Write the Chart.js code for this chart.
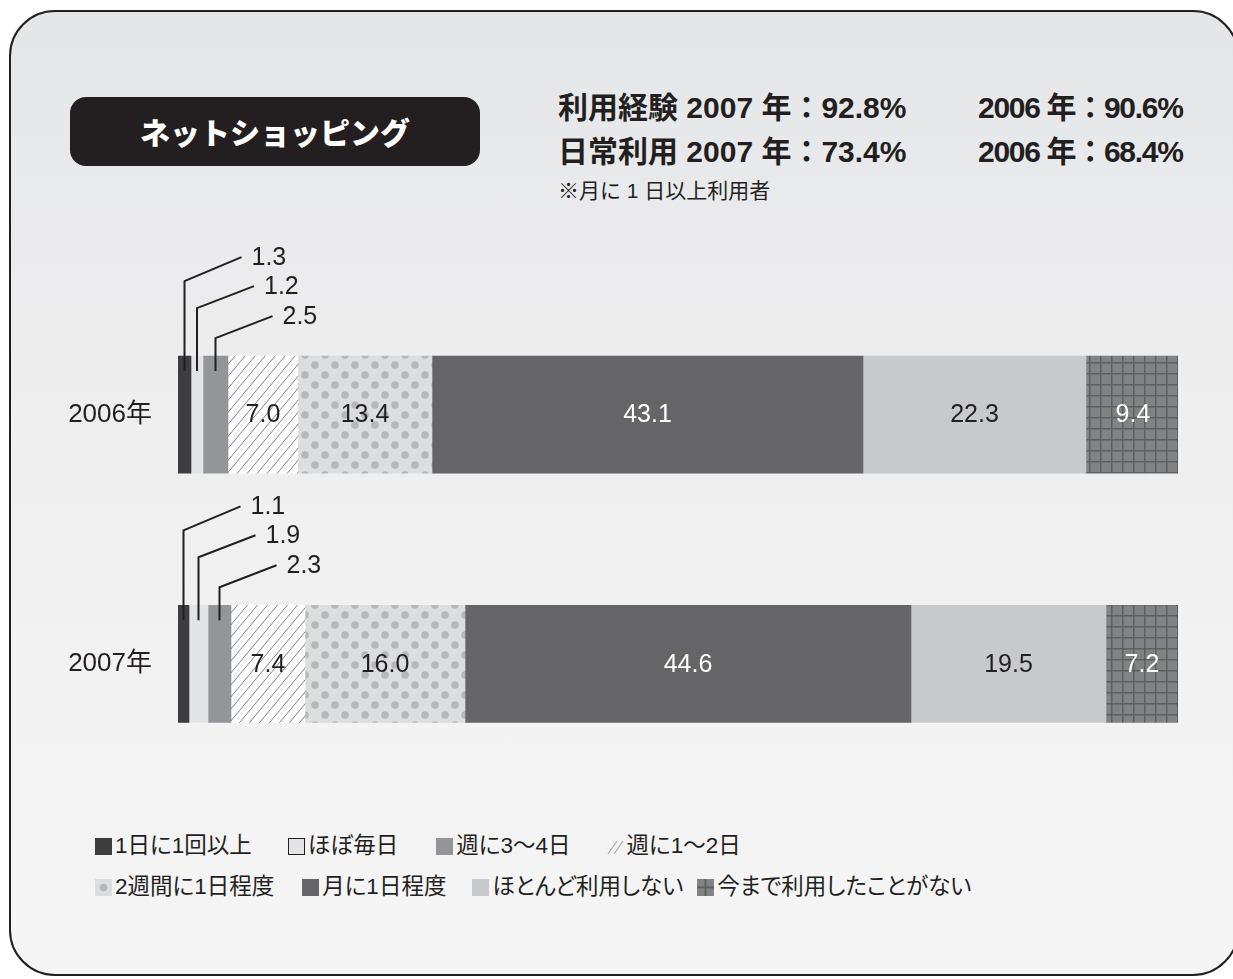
<!DOCTYPE html>
<html lang="ja">
<head>
<meta charset="utf-8">
<script src="https://cdn.jsdelivr.net/npm/chart.js@4.4.1/dist/chart.umd.min.js"></script>
<style>
  html, body { margin: 0; padding: 0; background: #fff; }
  body { width: 1233px; height: 979px; position: relative; overflow: hidden;
         font-family: "Liberation Sans", Arial, "Noto Sans CJK JP", sans-serif; color: #231f20; }
  #frame { position: absolute; left: 9px; top: 10px; width: 1226px; height: 962px;
           border: 2.5px solid #231f20; border-radius: 46px;
           background: linear-gradient(#e5e6e8 0%, #eeeeef 40%, #f3f3f4 75%, #f5f5f6 100%); }
  #title { position: absolute; left: 70px; top: 97px; width: 410px; height: 69px;
           background: #231f20; border-radius: 16px; color: #fff;
           font: 900 30px "Noto Sans CJK JP", sans-serif; line-height: 69px; text-align: center; }
  .stat { position: absolute; font-weight: 700; font-size: 30px; line-height: 36px; white-space: nowrap; }
  .stat.second { letter-spacing: -1.3px; }
  #note { position: absolute; left: 558px; top: 178px; font-size: 21px; line-height: 26px; white-space: nowrap; }
  #chartBox { position: absolute; left: 0; top: 230px; width: 1233px; height: 600px; }
  .row { position: absolute; display: flex; align-items: center; white-space: nowrap;
         font-size: 22.5px; line-height: 26px; font-feature-settings: "palt"; }
  .lg { display: flex; align-items: center; }
  .lg canvas { width: 17px; height: 17px; margin-right: 3px; }
</style>
</head>
<body>
<div id="frame"></div>
<div id="title">ネットショッピング</div>
<div class="stat" style="left:558px;top:90px">利用経験 2007 年：92.8%</div>
<div class="stat second" style="left:978px;top:90px">2006 年：90.6%</div>
<div class="stat" style="left:558px;top:134px">日常利用 2007 年：73.4%</div>
<div class="stat second" style="left:978px;top:134px">2006 年：68.4%</div>
<div id="note">※月に 1 日以上利用者</div>
<div id="chartBox"><canvas id="chart" width="1233" height="600"></canvas></div>
<div class="row" id="legend1" style="left:95px;top:833px"></div>
<div class="row" id="legend2" style="left:95px;top:874px"></div>

<script>
// 利用頻度（%）
const categories = ['2006年', '2007年'];
const seriesLabels = ['1日に1回以上', 'ほぼ毎日', '週に3〜4日', '週に1〜2日',
                      '2週間に1日程度', '月に1日程度', 'ほとんど利用しない', '今まで利用したことがない'];
const daily       = [1.3, 1.1];
const almostDaily = [1.2, 1.9];
const weekly34    = [2.5, 2.3];
const weekly12    = [7.0, 7.4];
const biweekly    = [13.4, 16.0];
const monthly     = [43.1, 44.6];
const rarely      = [22.3, 19.5];
const never       = [9.4, 7.2];
const seriesValues = [daily, almostDaily, weekly34, weekly12, biweekly, monthly, rarely, never];

// pattern tiles
function tile(w, h, draw) {
    const c = document.createElement('canvas');
    c.width = w; c.height = h;
    draw(c.getContext('2d'), w, h);
    return c;
}
const hatchTile = tile(10, 12, (g, w, h) => {
    g.fillStyle = '#fff'; g.fillRect(0, 0, w, h);
    g.strokeStyle = '#808183'; g.lineWidth = 1;
    g.beginPath();
    g.moveTo(-1, h + 1.2); g.lineTo(w + 1, -1.2);
    g.stroke();
});
const dotTile = tile(20, 20, (g, w, h) => {
    g.fillStyle = '#dcdddf'; g.fillRect(0, 0, w, h);
    g.fillStyle = '#b6b7b9';
    [[5, 5], [15, 15]].forEach(([x, y]) => { g.beginPath(); g.arc(x, y, 3.8, 0, Math.PI * 2); g.fill(); });
});
const gridTile = tile(11, 11, (g, w, h) => {
    g.fillStyle = '#818284'; g.fillRect(0, 0, w, h);
    g.fillStyle = '#5e5f61';
    g.fillRect(0, 0, 1.5, h); g.fillRect(0, 0, w, 1.5);
});

const ctx = document.getElementById('chart').getContext('2d');
const pat = t => ctx.createPattern(t, 'repeat');
const fills = ['#3d3d3f', '#e3e4e6', '#939598', pat(hatchTile), pat(dotTile), '#656567', '#c8c9cb', pat(gridTile)];
const textColors = ['#231f20', '#231f20', '#231f20', '#231f20', '#231f20', '#fff', '#231f20', '#fff'];

// in-bar values and leader-line callouts for the thin segments
const valueLabels = {
    id: 'valueLabels',
    afterDatasetsDraw(chart) {
        const c = chart.ctx;
        c.save();
        c.font = '25px "Liberation Sans", Arial, sans-serif';
        c.textBaseline = 'middle';
        const rise = [[75, 99], [48, 70], [18, 40]];
        chart.data.datasets.forEach((ds, i) => {
            chart.getDatasetMeta(i).data.forEach((bar, j) => {
                const p = bar.getProps(['x', 'y', 'base', 'height'], true);
                const cx = (p.x + p.base) / 2;
                const top = p.y - p.height / 2;
                const text = ds.data[j].toFixed(1);
                if (i < 3) {
                    const [r1, r2] = rise[i];
                    c.strokeStyle = '#231f20';
                    c.lineWidth = 2;
                    c.beginPath();
                    c.moveTo(cx, top + 15);
                    c.lineTo(cx, top - r1);
                    c.lineTo(cx + 57, top - r2);
                    c.stroke();
                    c.fillStyle = '#231f20';
                    c.textAlign = 'left';
                    c.fillText(text, cx + 67, top - r2 + 1);
                } else {
                    c.fillStyle = textColors[i];
                    c.textAlign = 'center';
                    c.fillText(text, cx, p.y + 1);
                }
            });
        });
        c.restore();
    }
};

new Chart(ctx, {
    type: 'bar',
    data: {
        labels: categories,
        datasets: seriesValues.map((vals, i) => ({
            label: seriesLabels[i],
            data: vals,
            backgroundColor: fills[i],
            borderWidth: 0,
            barThickness: 117
        }))
    },
    options: {
        indexAxis: 'y',
        responsive: false,
        animation: false,
        layout: { padding: { left: 0, right: 55, top: 60, bottom: 36 } },
        plugins: { legend: { display: false }, tooltip: { enabled: false } },
        scales: {
            x: { stacked: true, min: 0, max: 100, display: false },
            y: {
                stacked: true,
                grid: { display: false, drawTicks: false },
                border: { display: false },
                ticks: { padding: 26, color: '#231f20',
                         font: { size: 26, family: '"Liberation Sans", "Noto Sans CJK JP", sans-serif' } },
                afterFit(scale) { scale.width = 178; }
            }
        }
    },
    plugins: [valueLabels]
});

// legend swatches
function drawSwatch(g, i) {
    if (i === 3) {
        g.strokeStyle = '#a7a8aa'; g.lineWidth = 1.2;
        g.beginPath(); g.moveTo(1, 16); g.lineTo(10, 3); g.moveTo(7, 16); g.lineTo(16, 3); g.stroke();
    } else if (i === 4) {
        g.fillStyle = '#dcdddf'; g.fillRect(0, 0, 17, 17);
        g.fillStyle = '#b6b7b9'; g.beginPath(); g.arc(8.5, 8.5, 3.8, 0, Math.PI * 2); g.fill();
    } else if (i === 7) {
        g.fillStyle = '#818284'; g.fillRect(0, 0, 17, 17);
        g.fillStyle = '#5e5f61'; g.fillRect(7.5, 0, 1.8, 17); g.fillRect(0, 7.5, 17, 1.8);
    } else {
        g.fillStyle = fills[i]; g.fillRect(0, 0, 17, 17);
        if (i === 1) { g.strokeStyle = '#231f20'; g.lineWidth = 1; g.strokeRect(0.5, 0.5, 16, 16); }
    }
}
const legendRows = [['legend1', [0, 1, 2, 3], [0, 36, 38, 36]],
                    ['legend2', [4, 5, 6, 7], [0, 28, 26, 14]]];
legendRows.forEach(([id, items, gaps]) => {
    const row = document.getElementById(id);
    items.forEach((i, k) => {
        const item = document.createElement('div');
        item.className = 'lg';
        item.style.marginLeft = gaps[k] + 'px';
        const sw = document.createElement('canvas');
        sw.width = 17; sw.height = 17;
        drawSwatch(sw.getContext('2d'), i);
        const label = document.createElement('span');
        label.textContent = seriesLabels[i];
        item.append(sw, label);
        row.appendChild(item);
    });
});
</script>
</body>
</html>
